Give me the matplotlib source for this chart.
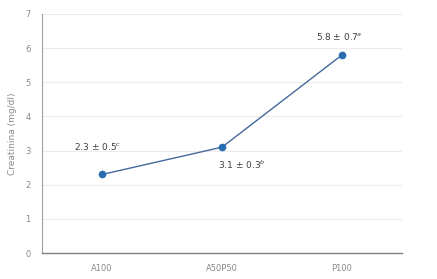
import matplotlib.pyplot as plt

groups = ['A100', 'A50P50', 'P100']
creat = [2.3, 3.1, 5.8]
sd = [0.5, 0.3, 0.7]
letters = ['c', 'b', 'a']

# label offsets in points (dx, dy)
offsets = [(-3, 20), (14, -13), (-2, 13)]

fig = plt.figure(figsize=(4.37, 2.79), dpi=100)
ax = fig.add_axes([0.096, 0.093, 0.824, 0.857])

x = list(range(len(groups)))
ax.plot(x, creat, color='#44689a', lw=1.0, marker='o', ms=4.5,
        mfc='#2a6cb0', mec='#2a6cb0', zorder=3)

for i, (v, s, l) in enumerate(zip(creat, sd, letters)):
    ax.annotate('%.1f \u00b1 %.1f$^{%s}$' % (v, s, l), (i, v),
                xytext=offsets[i], textcoords='offset points',
                ha='center', va='center', fontsize=6.5, color='#404040')

ax.set_xlim(-0.5, 2.5)
ax.set_ylim(0, 7)
ax.set_yticks(range(8))
ax.set_xticks(x)
ax.set_xticklabels(groups)
ax.tick_params(length=0, labelsize=6, colors='#8a8a8a', pad=8)
ax.set_ylabel('Creatinina (mg/dl)', fontsize=6.5, color='#8a8a8a', labelpad=6)
ax.grid(axis='y', color='#ececec', lw=0.8)
ax.set_axisbelow(True)
for side in ['top', 'right']:
    ax.spines[side].set_visible(False)
ax.spines['left'].set_color('#a0a0a0')
ax.spines['bottom'].set_color('#808080')
ax.spines['left'].set_linewidth(0.8)
ax.spines['bottom'].set_linewidth(1.0)

fig.savefig('out.png', dpi=100)
